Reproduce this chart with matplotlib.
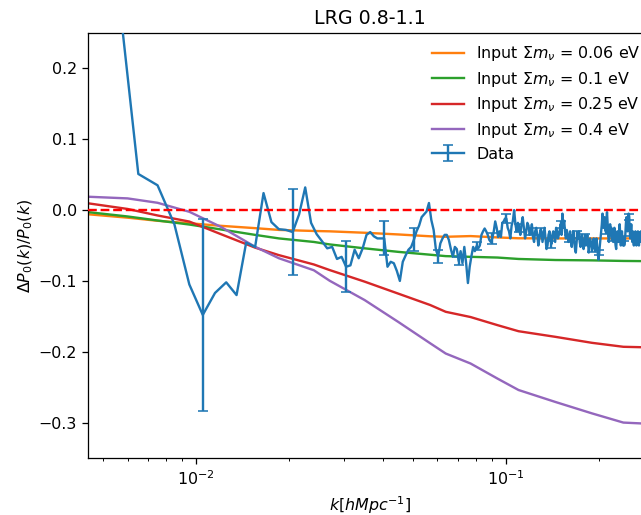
import numpy as np
import matplotlib
matplotlib.use("Agg")
import matplotlib.pyplot as plt

# Measured band powers: k bins of width 0.001 h/Mpc starting at 0.0055
k_data = np.round(np.arange(0.0055, 0.2950, 0.001), 4)

frac_diff = [
    0.34, 0.051, 0.035, -0.020, -0.105, -0.148, -0.117, -0.102, -0.120, -0.046,
    -0.052, 0.024, -0.017, -0.027, -0.028, -0.031, -0.006, 0.032, -0.018, -0.034,
    -0.044, -0.054, -0.052, -0.069, -0.066, -0.080, -0.078, -0.056, -0.068, -0.054,
    -0.035, -0.031, -0.037, -0.040, -0.040, -0.040, -0.080, -0.073, -0.075, -0.086,
    -0.100, -0.073, -0.064, -0.056, -0.052, -0.042, -0.030, -0.022, -0.010, -0.006,
    -0.002, 0.010, -0.014, -0.028, -0.056, -0.065, -0.047, -0.040, -0.035, -0.035,
    -0.042, -0.055, -0.066, -0.052, -0.055, -0.072, -0.058, -0.075, -0.052, -0.075,
    -0.103, -0.080, -0.065, -0.052, -0.058, -0.051, -0.054, -0.050, -0.035, -0.030,
    -0.026, -0.030, -0.035, -0.042, -0.045, -0.040, -0.030, -0.016, -0.025, -0.038,
    -0.030, -0.038, -0.018, -0.016, -0.012, -0.012, -0.025, -0.030, -0.040, -0.022,
    -0.015, 0.000, -0.020, -0.030, -0.018, -0.025, -0.035, -0.020, -0.010, -0.025,
    -0.040, -0.030, -0.018, -0.022, -0.035, -0.030, -0.020, -0.038, -0.045, -0.030,
    -0.025, -0.035, -0.050, -0.040, -0.028, -0.030, -0.045, -0.035, -0.025, -0.040,
    -0.055, -0.050, -0.035, -0.030, -0.042, -0.048, -0.035, -0.030, -0.038, -0.045,
    -0.025, -0.030, -0.040, -0.035, -0.028, -0.020, -0.035, -0.005, -0.025, -0.015,
    -0.030, -0.040, -0.028, -0.035, -0.045, -0.040, -0.030, -0.045, -0.052, -0.038,
    -0.030, -0.042, -0.055, -0.060, -0.045, -0.035, -0.040, -0.030, -0.045, -0.052,
    -0.040, -0.035, -0.048, -0.055, -0.045, -0.038, -0.050, -0.042, -0.035, -0.045,
    -0.060, -0.052, -0.040, -0.045, -0.050, -0.055, -0.045, -0.040, -0.050, -0.058,
    -0.048, -0.040, -0.052, -0.062, -0.070, -0.060, -0.050, -0.040, -0.030, -0.020,
    -0.005, -0.015, -0.025, -0.010, -0.020, -0.030, -0.015, -0.003, -0.020, -0.035,
    -0.045, -0.030, -0.020, -0.035, -0.025, -0.040, -0.030, -0.045, -0.035, -0.025,
    -0.040, -0.050, -0.055, -0.040, -0.030, -0.035, -0.045, -0.030, -0.020, -0.035,
    -0.050, -0.040, -0.030, -0.045, -0.050, -0.040, -0.050, -0.045, -0.035, -0.020,
    -0.010, -0.025, -0.030, -0.015, -0.005, -0.010, -0.025, -0.040, -0.030, -0.020,
    -0.035, -0.045, -0.030, -0.040, -0.050, -0.035, -0.045, -0.030, -0.040, -0.050,
    -0.035, -0.045, -0.030, -0.040, -0.050, -0.035, -0.045, -0.040, -0.030, -0.045,
    -0.040, -0.035, -0.045, -0.030, -0.040, -0.035, -0.045, -0.040, -0.035, -0.040,
    -0.040, -0.035, -0.045, -0.040, -0.035, -0.040, -0.045, -0.040, -0.035, -0.040,
]

# 1-sigma errors shown at every tenth bin (k = 0.0105, 0.0205, ...)
err_shown = [
    0.135, 0.061, 0.036, 0.024, 0.016, 0.009, 0.006, 0.006, 0.0075, 0.006,
    0.006, 0.005, 0.005, 0.005, 0.005, 0.005, 0.005, 0.004, 0.004, 0.004,
    0.004, 0.004, 0.004, 0.004, 0.004, 0.004, 0.004, 0.004, 0.004,
]

# Theory predictions for the input neutrino masses
k_model = [0.0045, 0.006, 0.0075, 0.0095, 0.012, 0.0155, 0.0185, 0.024, 0.027, 0.035,
           0.045, 0.057, 0.064, 0.077, 0.094, 0.11, 0.145, 0.19, 0.24, 0.30]
model_006 = [-0.006, -0.0107, -0.0151, -0.0186, -0.0222, -0.0255, -0.028, -0.0295, -0.030, -0.032,
             -0.0344, -0.037, -0.0377, -0.0367, -0.0386, -0.0398, -0.040, -0.040, -0.040, -0.040]
model_01 = [-0.003, -0.009, -0.0147, -0.0204, -0.0273, -0.035, -0.040, -0.045, -0.0485, -0.054,
            -0.059, -0.063, -0.065, -0.066, -0.067, -0.069, -0.0705, -0.071, -0.0718, -0.0722]
model_025 = [0.0094, 0.0016, -0.0076, -0.0162, -0.0339, -0.053, -0.0636, -0.0768, -0.0847, -0.101,
             -0.118, -0.134, -0.1436, -0.151, -0.1624, -0.171, -0.179, -0.1874, -0.193, -0.194]
model_04 = [0.0188, 0.0165, 0.0103, -0.0024, -0.0236, -0.0518, -0.068, -0.085, -0.0998, -0.127,
            -0.158, -0.188, -0.2025, -0.2166, -0.2378, -0.254, -0.271, -0.287, -0.300, -0.302]

models = [
    (model_006, "tab:orange", r"Input $\Sigma m_\nu$ = 0.06 eV"),
    (model_01, "tab:green", r"Input $\Sigma m_\nu$ = 0.1 eV"),
    (model_025, "tab:red", r"Input $\Sigma m_\nu$ = 0.25 eV"),
    (model_04, "tab:purple", r"Input $\Sigma m_\nu$ = 0.4 eV"),
]

yerr = np.zeros(len(frac_diff))
yerr[5::10] = err_shown[:len(yerr[5::10])]

DPI = 114
fig = plt.figure(figsize=(641 / DPI, 515 / DPI), dpi=DPI)
ax = fig.add_axes([88 / 641, 57 / 515, 564 / 641, 425 / 515])

ax.errorbar(k_data, frac_diff, yerr=yerr, errorevery=(5, 10), color="tab:blue",
            lw=1.5, capsize=3, label="Data", zorder=3)
for vals, col, lab in models:
    ax.plot(k_model, vals, color=col, lw=1.5, label=lab, zorder=2)
ax.axhline(0.0, color="red", ls="--", lw=1.5, zorder=4)

ax.set_xscale("log")
ax.set_xlim(0.00447, 0.297)
ax.set_ylim(-0.35, 0.25)
ax.set_yticks([-0.3, -0.2, -0.1, 0.0, 0.1, 0.2])
ax.set_xlabel(r"$k[hMpc^{-1}]$")
ax.set_ylabel(r"$\Delta P_0(k)/P_0(k)$", labelpad=2)
ax.set_title("LRG 0.8-1.1")
ax.legend(loc="upper right", frameon=False, labelspacing=0.42, borderaxespad=0.3)

fig.savefig("out.png", dpi=DPI)
